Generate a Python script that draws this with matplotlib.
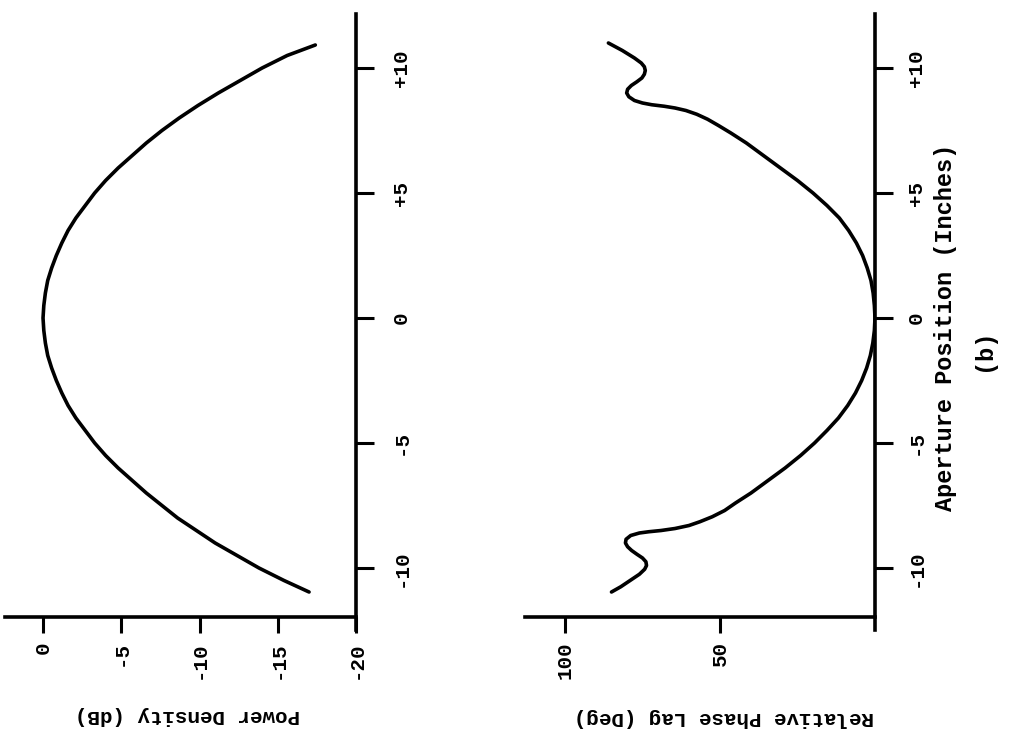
import matplotlib
matplotlib.use("Agg")
import matplotlib.pyplot as plt

# Aperture position (inches) and measured power density (dB)
power_pos = [-10.96, -10.5, -10.0, -9.5, -9.0, -8.5, -8.0, -7.5, -7.0, -6.5, -6.0,
             -5.5, -5.0, -4.5, -4.0, -3.5, -3.0, -2.5, -2.0, -1.5, -1.0, -0.5, 0.0,
             0.5, 1.0, 1.5, 2.0, 2.5, 3.0, 3.5, 4.0, 4.5, 5.0, 5.5, 6.0, 6.5, 7.0,
             7.5, 8.0, 8.5, 9.0, 9.5, 10.0, 10.5, 10.92]
power_db = [-17.0, -15.4, -13.8, -12.4, -11.0, -9.8, -8.6, -7.6, -6.6, -5.7, -4.8,
            -4.0, -3.3, -2.7, -2.1, -1.6, -1.2, -0.85, -0.55, -0.3, -0.15, -0.05, 0.0,
            -0.05, -0.15, -0.3, -0.55, -0.85, -1.2, -1.6, -2.1, -2.7, -3.3, -4.0, -4.8,
            -5.7, -6.6, -7.6, -8.7, -9.9, -11.2, -12.6, -14.0, -15.6, -17.4]

# Aperture position (inches) and relative phase lag (degrees)
phase_pos = [-10.96, -10.75, -10.5, -10.25, -10.05, -9.9, -9.75, -9.6, -9.45, -9.3,
             -9.15, -9.0, -8.85, -8.7, -8.6, -8.55, -8.5, -8.42, -8.3, -8.15, -7.95,
             -7.7, -7.4, -7.0, -6.5, -6.0, -5.5, -5.0, -4.5, -4.0, -3.5, -3.0, -2.5,
             -2.0, -1.5, -1.0, -0.5, 0.0, 0.5, 1.0, 1.5, 2.0, 2.5, 3.0, 3.5, 4.0,
             4.5, 5.0, 5.5, 6.0, 6.5, 7.0, 7.4, 7.7, 7.95, 8.15, 8.3, 8.4, 8.47,
             8.53, 8.6, 8.7, 8.85, 9.0, 9.15, 9.3, 9.45, 9.6, 9.75, 9.9, 10.05,
             10.2, 10.4, 10.7, 11.0]
phase_deg = [85.0, 82.0, 79.0, 76.0, 74.3, 73.7, 73.9, 75.0, 76.8, 78.5,
             79.8, 80.5, 80.3, 78.8, 76.0, 73.0, 69.0, 64.5, 60.0, 56.5, 52.5,
             48.5, 45.0, 40.0, 34.5, 29.0, 24.0, 19.5, 15.5, 11.8, 8.8, 6.3, 4.3,
             2.7, 1.5, 0.7, 0.2, 0.0, 0.2, 0.6, 1.3, 2.5, 4.0, 6.0, 8.5, 11.5,
             15.5, 20.0, 25.0, 30.5, 36.0, 41.5, 46.5, 50.5, 54.0, 57.5, 61.0, 64.5, 68.0,
             72.0, 75.0, 77.6, 79.4, 80.1, 79.8, 78.6, 76.8, 75.2, 74.4, 74.1, 74.4,
             75.4, 77.6, 81.5, 86.0]

pos_ticks = [-10, -5, 0, 5, 10]
pos_labels = ["-10", "-5", "0", "+5", "+10"]
power_ticks = [0, -5, -10, -15, -20]
power_labels = ["0", "-5", "-10", "-15", "-20"]
phase_ticks = [100, 50]
phase_labels = ["100", "50"]

W, H = 1021, 739
FONT = dict(family="Liberation Mono", weight="bold", size=15)
CAPTION = dict(family="Liberation Mono", weight="bold", size=17)
LW = 2.6

plt.rcParams["font.family"] = "Liberation Mono"
fig = plt.figure(figsize=(W / 100, H / 100), dpi=100)
fig.patch.set_facecolor("white")


def px_axes(x0, x1, y_top, y_bot):
    return fig.add_axes([x0 / W, 1 - y_bot / H, (x1 - x0) / W, (y_bot - y_top) / H])


def style(ax, xlim, ylim, base_y, ticks, labels, pad_x):
    ax.set_xlim(*xlim)
    ax.set_ylim(*ylim)
    ax.patch.set_alpha(0)
    for s in ("left", "top"):
        ax.spines[s].set_visible(False)
    ax.spines["right"].set_linewidth(LW)
    ax.spines["bottom"].set_linewidth(LW)
    ax.spines["bottom"].set_position(("data", base_y))
    ax.spines["bottom"].set_bounds(xlim[0], xlim[1])
    ax.yaxis.tick_right()
    ax.set_yticks(pos_ticks)
    ax.set_yticklabels(pos_labels, fontdict=FONT)
    ax.tick_params(axis="y", direction="out", length=13, width=2.2, pad=pad_x)
    for t in ax.get_yticklabels():
        t.set_rotation(90)
        t.set_va("center")
        t.set_ha("left")
    ax.set_xticks(ticks)
    ax.set_xticklabels(labels, fontdict=FONT)
    ax.tick_params(axis="x", direction="out", length=11.5, width=2.2, pad=6)
    for t in ax.get_xticklabels():
        t.set_rotation(90)
        t.set_va("top")
        t.set_ha("center")


# Power density panel
ax1 = px_axes(5, 356, 14, 630)
style(ax1, (2.43, -20), (-12.48, 12.16), -11.96, power_ticks, power_labels, 13)
ax1.plot(power_db, power_pos, color="black", lw=LW, solid_capstyle="round",
         solid_joinstyle="round")

# Phase lag panel
ax2 = px_axes(525, 875, 14, 630)
style(ax2, (112.9, 0), (-12.48, 12.16), -11.96, phase_ticks, phase_labels, 10)
ax2.plot(phase_deg, phase_pos, color="black", lw=LW, solid_capstyle="round",
         solid_joinstyle="round")

fig.text(188 / W, 1 - 716 / H, "Power Density (dB)", rotation=180,
         ha="center", va="center", **FONT)
fig.text(724 / W, 1 - 718 / H, "Relative Phase Lag (Deg)", rotation=180,
         ha="center", va="center", **FONT)
fig.text(945 / W, 1 - 327 / H, "Aperture Position (Inches)", rotation=90,
         ha="center", va="center", **CAPTION)
fig.text(983 / W, 1 - 350 / H, "(b)", rotation=90,
         ha="center", va="center", **CAPTION)

fig.savefig("out.png", dpi=100, facecolor="white")
